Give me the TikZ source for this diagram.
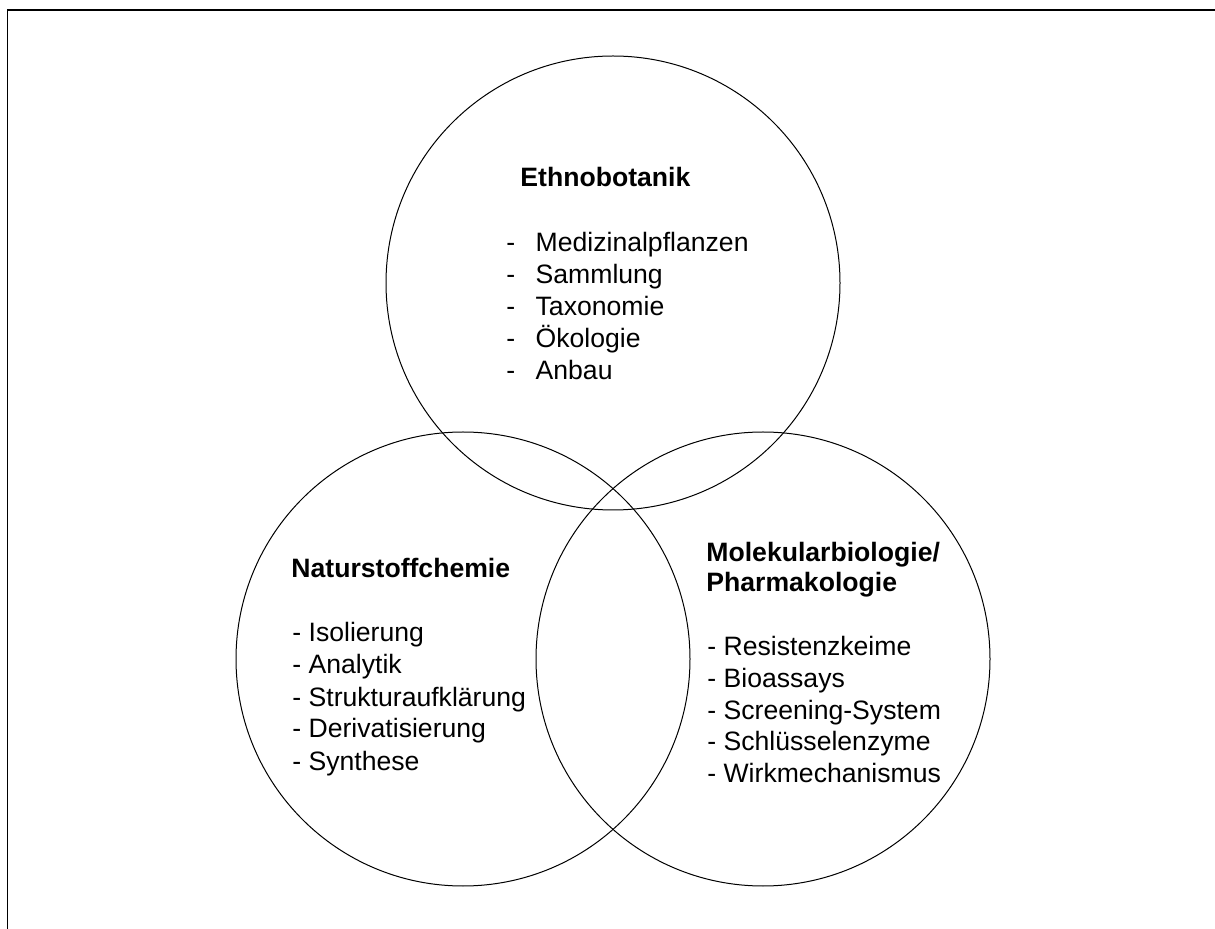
\documentclass[tikz,border=0pt]{standalone}
\usepackage{fontspec}
\setmainfont{Liberation Sans}
\begin{document}
\begin{tikzpicture}[
  x=0.5pt, y=-0.5pt,
  area/.style={draw, circle, line width=0.5pt, minimum size=227pt, inner sep=0pt},
  head/.style={anchor=base west, inner sep=0pt, font=\fontsize{13.3}{16}\selectfont\bfseries},
  item/.style={anchor=base west, inner sep=0pt, font=\fontsize{13.3}{16}\selectfont}
]
  \useasboundingbox (0,0) rectangle (1215,929);
  \draw[line width=0.85pt] (7.5,929) -- (7.5,10) -- (1215,10);
  % the three fields
  \node[area] (eth) at (613,283) {};
  \node[area] (nat) at (463,659) {};
  \node[area] (mol) at (763,659) {};
  % Ethnobotanik
  \node[head] (ethhead) at (520,187) {Ethnobotanik};
  \foreach \t [count=\i] in {Medizinalpflanzen,Sammlung,Taxonomie,Ökologie,Anbau}
    \node[item] (eth\i) at (506,{252+32*(\i-1)}) {\makebox[1.1em][l]{-}\t};
  % Naturstoffchemie
  \node[head] (nathead) at (291,578) {Naturstoffchemie};
  \foreach \t [count=\i] in {Isolierung,Analytik,Strukturaufklärung,Derivatisierung,Synthese}
    \node[item] (nat\i) at (292,{642+32*(\i-1)}) {- \t};
  % Molekularbiologie
  \node[head] (molhead) at (706,562) {Molekularbiologie/};
  \node[head] (molhead2) at (706,592) {Pharmakologie};
  \foreach \t [count=\i] in {Resistenzkeime,Bioassays,Screening-System,Schlüsselenzyme,Wirkmechanismus}
    \node[item] (mol\i) at (707,{656+31.5*(\i-1)}) {- \t};
\end{tikzpicture}
\end{document}
